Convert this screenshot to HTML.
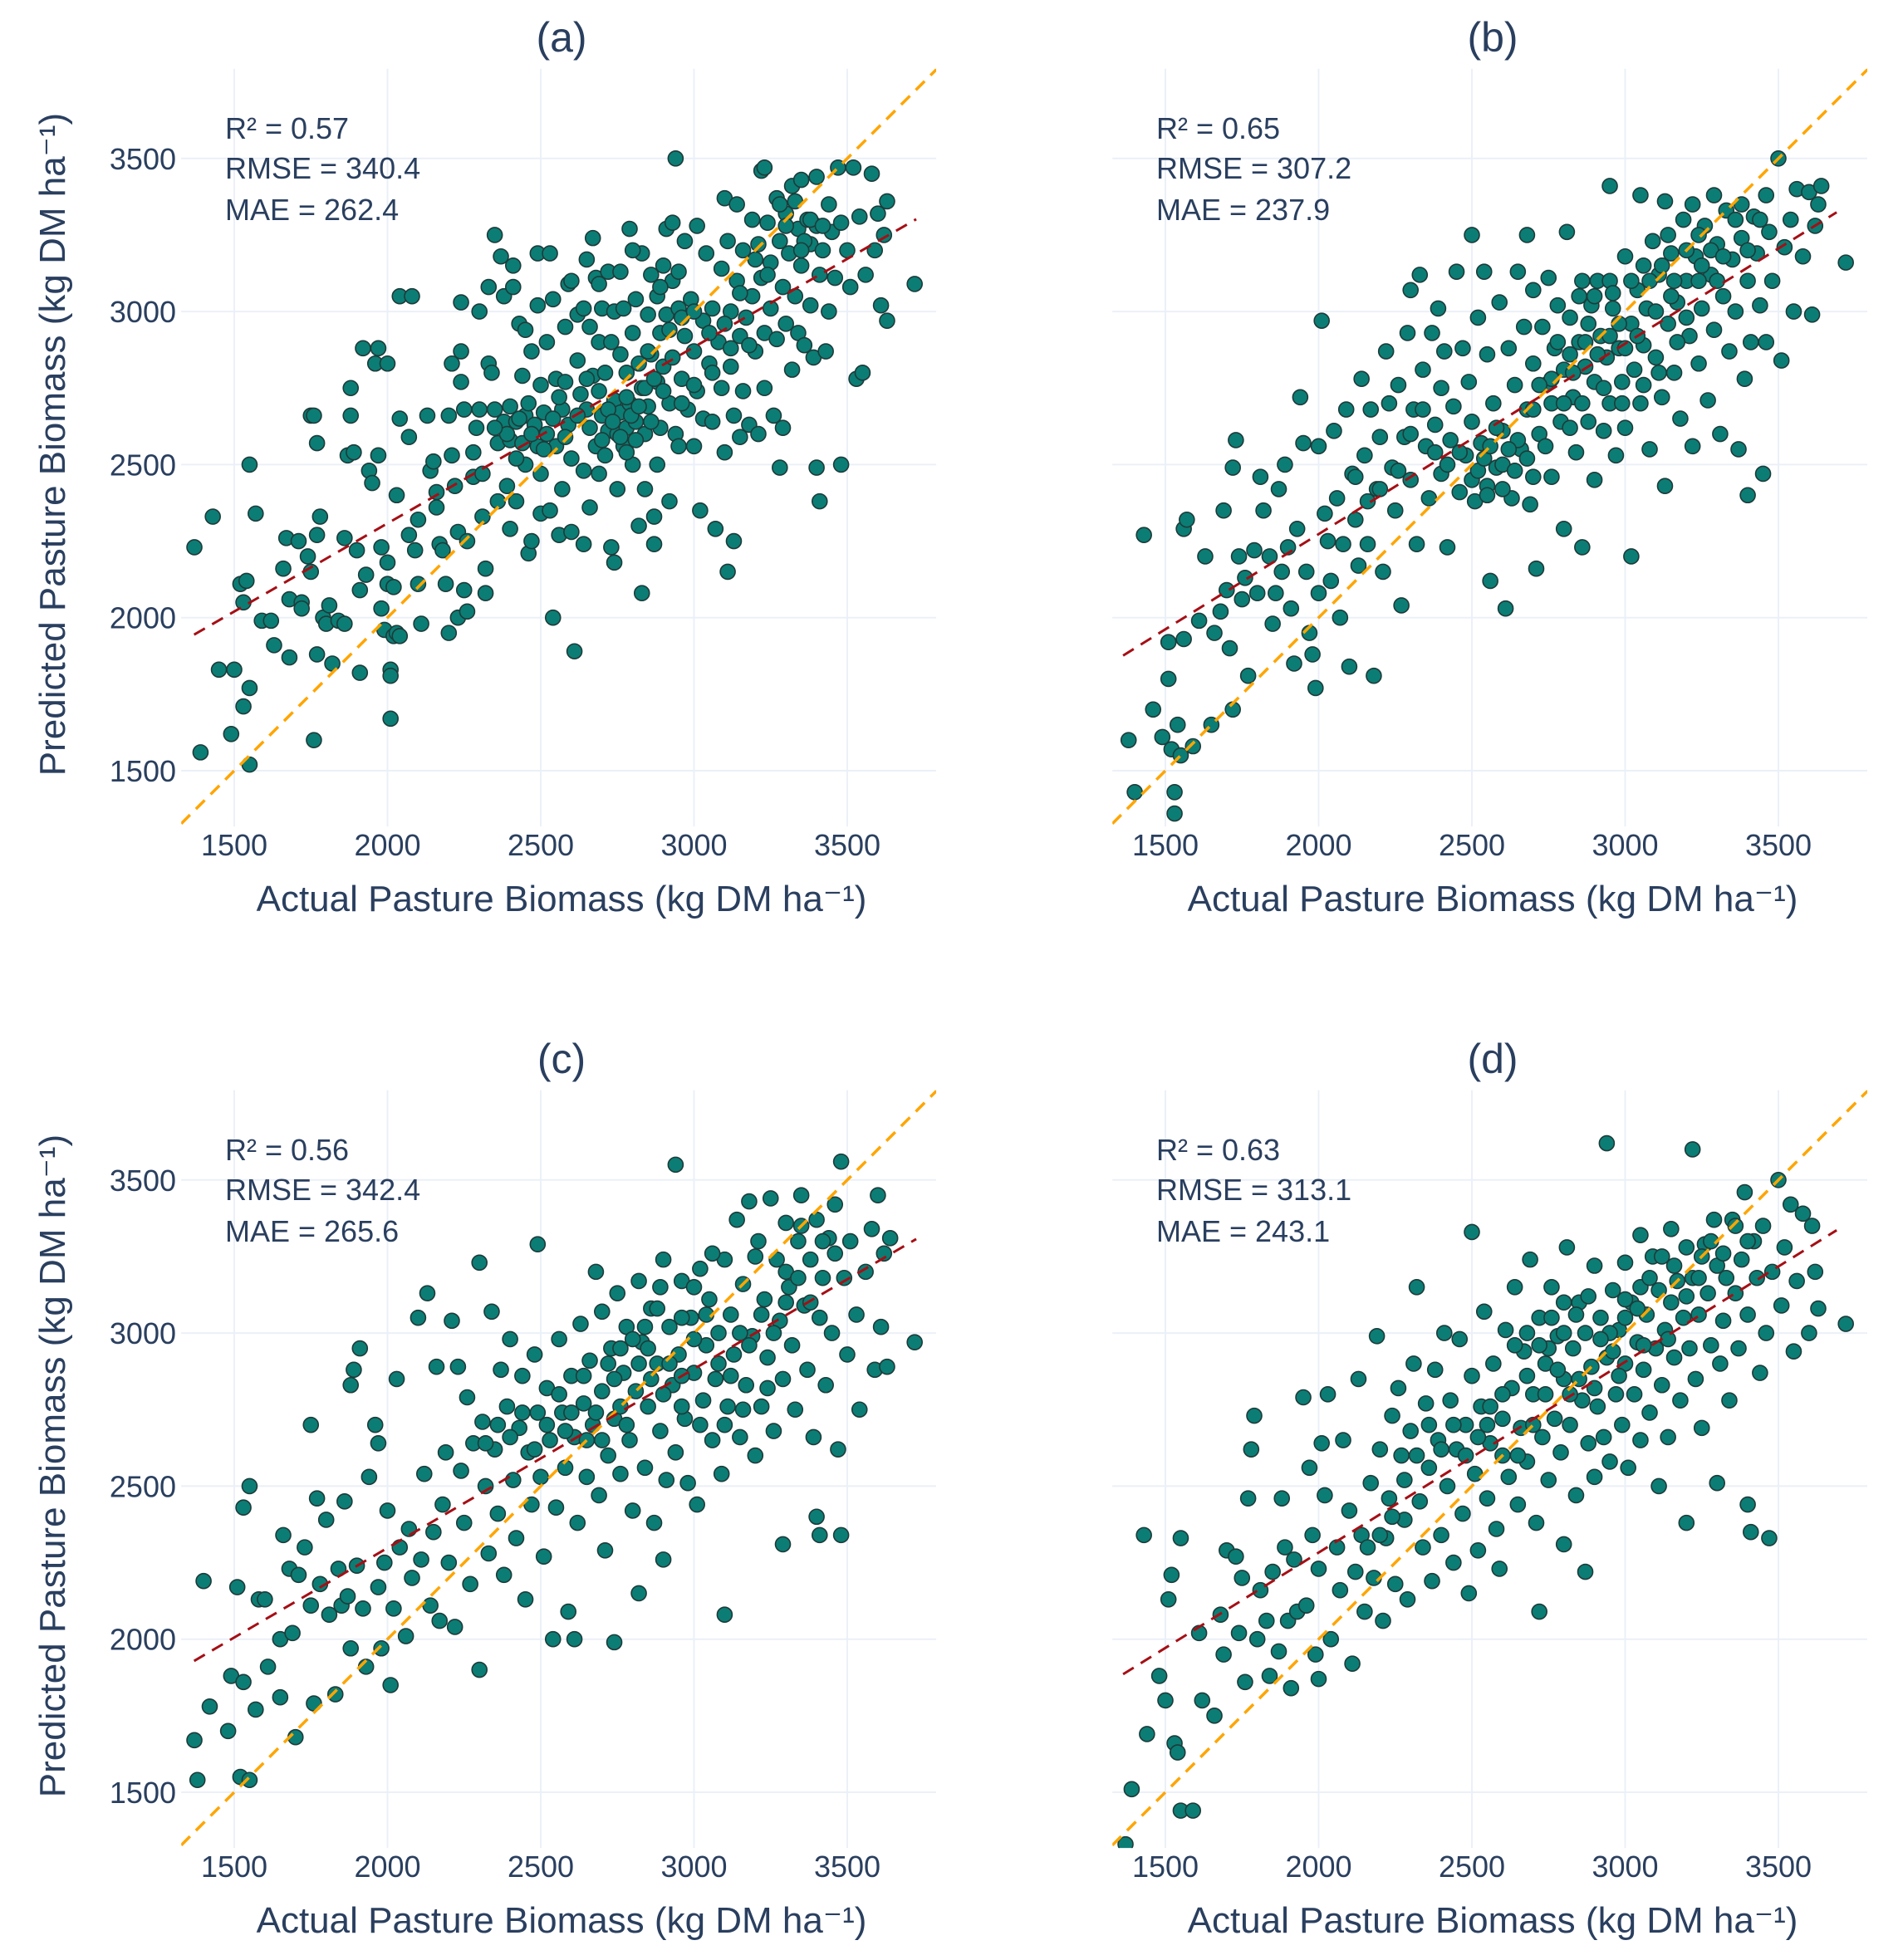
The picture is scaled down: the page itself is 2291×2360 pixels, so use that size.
<!DOCTYPE html>
<html><head><meta charset="utf-8"><style>
html,body{margin:0;padding:0;background:#fff;}
svg{display:block;font-family:"Liberation Sans",sans-serif;}
</style></head>
<body>
<svg id="fig" width="2291" height="2360" viewBox="0 0 2291 2360" xmlns="http://www.w3.org/2000/svg"></svg>
<script>
const ptsA=[[1370,2230],[1430,2330],[1390,1560],[1450,1830],[1500,1830],[1490,1620],[1530,1710],[1550,1770],[1550,1520],[1550,2500],[1520,2110],[1540,2120],[1530,2050],[1570,2340],[1590,1990],[1620,1990],[1630,1910],[1660,2160],[1670,2260],[1680,2060],[1680,1870],[1710,2250],[1720,2050],[1720,2030],[1740,2200],[1750,2150],[1750,2660],[1760,2660],[1760,1600],[1770,2570],[1770,1880],[1780,2330],[1770,2270],[1790,2000],[1800,1980],[1810,2040],[1820,1850],[1840,1990],[1860,1980],[1860,2260],[1870,2530],[1880,2660],[1880,2750],[1890,2540],[1900,2220],[1910,2090],[1920,2880],[1910,1820],[1930,2140],[1940,2480],[1950,2440],[1960,2830],[1970,2530],[1970,2880],[1980,2030],[1980,2230],[1990,1960],[2000,2830],[2000,2110],[2000,2180],[2010,1830],[2010,1810],[2010,1670],[2020,2100],[2020,1940],[2030,2400],[2030,1950],[2040,2650],[2040,3050],[2040,1940],[2070,2590],[2070,2270],[2080,3050],[2090,2220],[2100,2320],[2100,2110],[2110,1980],[2130,2660],[2140,2480],[2150,2510],[2160,2410],[2160,2360],[2170,2240],[2180,2220],[2190,2110],[2200,2660],[2200,1950],[2210,2830],[2210,2530],[2220,2430],[2230,2280],[2230,2000],[2240,3030],[2240,2870],[2240,2770],[2250,2090],[2260,2250],[2260,2020],[2280,2460],[2290,2620],[2300,2680],[2300,3000],[2310,2470],[2310,2330],[2320,2080],[2320,2160],[2330,3080],[2330,2830],[2340,2800],[2350,3250],[2350,2680],[2360,2570],[2360,2380],[2370,3180],[2380,3050],[2380,2640],[2390,2430],[2400,2690],[2400,2580],[2400,2290],[2410,3150],[2410,3080],[2420,2640],[2420,2380],[2430,2960],[2440,2790],[2440,2570],[2450,2940],[2450,2660],[2450,2500],[2460,2210],[2470,2870],[2470,2250],[2480,2630],[2490,3190],[2490,3020],[2490,2560],[2500,2760],[2500,2470],[2500,2340],[2510,2670],[2520,2900],[2520,2600],[2530,3190],[2530,2350],[2540,3040],[2540,2000],[2550,2780],[2550,2560],[2560,2270],[2570,2680],[2570,2420],[2580,2950],[2580,2770],[2590,3090],[2590,2630],[2600,2520],[2600,2280],[2610,1890],[2620,2990],[2620,2840],[2630,2730],[2640,2480],[2640,2240],[2650,3170],[2650,2680],[2660,2950],[2660,2360],[2670,3240],[2670,2790],[2680,3110],[2680,2560],[2690,2900],[2690,2470],[2700,3010],[2700,2660],[2710,2800],[2710,2530],[2720,3130],[2720,2610],[2730,2900],[2730,2230],[2740,3000],[2740,2710],[2740,2180],[2750,2600],[2750,2420],[2760,2860],[2760,2670],[2770,3010],[2770,2560],[2780,2800],[2780,2620],[2790,3270],[2790,2700],[2800,2930],[2800,2500],[2810,3040],[2810,2640],[2820,2830],[2820,2300],[2830,3190],[2830,2750],[2830,2080],[2840,2600],[2840,2420],[2850,2990],[2850,2690],[2860,3120],[2860,2860],[2870,2330],[2870,2240],[2880,3050],[2880,2770],[2880,2500],[2890,2930],[2890,2620],[2900,3150],[2900,2820],[2910,3270],[2910,2990],[2920,2700],[2920,2380],[2930,3100],[2930,2850],[2940,3500],[2940,2600],[2950,3010],[2950,2560],[2960,2780],[2970,3230],[2970,2920],[2980,2680],[2990,3040],[3000,2870],[3000,2560],[3010,3280],[3010,2740],[3020,2350],[3030,2970],[3030,2650],[3040,3190],[3050,2830],[3060,2640],[3060,3010],[3070,2290],[3080,2900],[3090,3140],[3090,2750],[3100,3370],[3100,2540],[3110,3230],[3110,2150],[3120,3000],[3120,2820],[3130,2660],[3130,2250],[3140,3350],[3140,3100],[3150,2920],[3150,2590],[3160,3200],[3160,2740],[3170,2980],[3180,2630],[3190,3300],[3190,3050],[3200,2870],[3210,3220],[3210,2600],[3220,3460],[3220,3110],[3230,2930],[3230,2750],[3240,3290],[3250,3010],[3250,3160],[3260,2660],[3270,2910],[3270,3370],[3280,3230],[3280,2490],[3290,3080],[3290,2620],[3300,3320],[3300,2960],[3310,3190],[3320,3410],[3320,2810],[3330,3050],[3340,3270],[3340,2930],[3350,3430],[3350,3150],[3360,2890],[3370,3300],[3380,3220],[3380,3020],[3390,2850],[3400,3440],[3400,3280],[3400,2490],[3410,3120],[3410,2380],[3420,3200],[3430,2870],[3440,3350],[3440,3000],[3450,3260],[3460,3110],[3470,3470],[3480,2500],[3480,3290],[3500,3200],[3510,3080],[3520,3470],[3530,2780],[3540,3310],[3550,2800],[3560,3120],[3580,3450],[3590,3200],[3600,3320],[3610,3020],[3620,3250],[3630,3360],[3630,2970],[3720,3090],[3280,3350],[3330,3360],[3360,3230],[3230,3470],[2930,3290],[2950,3130],[2890,3080],[2800,3200],[2760,3130],[2640,3010],[2600,3100],[2690,3090],
[2720,2680],[2735,2640],[2760,2590],[2780,2720],[2795,2660],[2810,2580],[2820,2690],[2840,2750],[2860,2640],[2870,2780],[2780,2540],[2700,2580],[2660,2620],[2620,2660],[2580,2590],[2540,2650],[2510,2550],[2470,2600],[2430,2650],[2390,2600],[2350,2620],[2920,2940],[2960,2980],[3000,3000],[3050,2930],[3100,2960],[3150,3060],[3200,3170],[3240,3120],[3300,3280],[3350,3200],[3380,3300],[3420,3280],[3180,2890],[3120,2880],[3060,2800],[3000,2760],[2960,2700],[2900,2740],[2850,2870],[2690,2740],[2650,2780],[2560,2720],[2460,2700],[2420,2520],[2280,2540],[2250,2680]];
const ptsB=[[1380,1600],[1400,1430],[1430,2270],[1460,1700],[1490,1610],[1510,1920],[1510,1800],[1520,1570],[1530,1430],[1530,1360],[1540,1650],[1550,1550],[1560,2290],[1560,1930],[1570,2320],[1590,1580],[1610,1990],[1630,2200],[1650,1650],[1660,1950],[1680,2020],[1690,2350],[1700,2090],[1710,1900],[1720,2490],[1720,1700],[1730,2580],[1740,2200],[1750,2060],[1760,2130],[1770,1810],[1790,2220],[1800,2080],[1810,2460],[1820,2350],[1840,2200],[1850,1980],[1860,2080],[1870,2420],[1880,2150],[1890,2500],[1900,2230],[1910,2030],[1920,1850],[1930,2290],[1940,2720],[1950,2570],[1960,2150],[1970,1950],[1980,1880],[1990,1770],[2000,2560],[2000,2080],[2010,2970],[2020,2340],[2030,2250],[2040,2120],[2050,2610],[2060,2390],[2070,2000],[2080,2240],[2090,2680],[2100,1840],[2110,2470],[2120,2320],[2130,2170],[2140,2780],[2150,2530],[2160,2240],[2170,2680],[2180,1810],[2190,2420],[2200,2590],[2210,2150],[2220,2870],[2230,2700],[2240,2490],[2250,2350],[2260,2760],[2270,2040],[2280,2590],[2290,2930],[2300,3070],[2300,2450],[2310,2680],[2320,2240],[2330,3120],[2340,2810],[2350,2560],[2360,2390],[2370,2930],[2380,2630],[2390,3010],[2400,2470],[2400,2750],[2410,2870],[2420,2230],[2430,2580],[2440,2690],[2450,3130],[2460,2410],[2470,2880],[2480,2530],[2490,2770],[2500,3250],[2500,2640],[2510,2380],[2520,2980],[2530,2570],[2540,3130],[2550,2860],[2550,2430],[2560,2120],[2570,2700],[2580,2490],[2590,3030],[2600,2610],[2610,2030],[2620,2880],[2630,2390],[2640,2760],[2650,3130],[2660,2550],[2670,2950],[2680,3250],[2680,2680],[2690,2370],[2700,2830],[2700,3070],[2710,2160],[2720,2600],[2730,2950],[2740,2760],[2750,3110],[2760,2460],[2770,2880],[2780,3020],[2790,2640],[2800,2290],[2800,2810],[2810,3260],[2820,2980],[2830,2720],[2840,2540],[2850,2900],[2860,2230],[2860,3100],[2870,2820],[2880,2640],[2890,3020],[2900,2450],[2900,2770],[2910,3100],[2920,2920],[2930,2610],[2940,2850],[2950,3410],[2950,2700],[2960,3010],[2970,2530],[2980,2880],[2990,2770],[3000,3180],[3000,2620],[3020,2200],[3020,2960],[3030,2810],[3040,3070],[3050,3380],[3050,2700],[3060,2890],[3070,3010],[3080,2550],[3090,3230],[3100,2850],[3110,3120],[3120,2720],[3130,3360],[3130,2430],[3140,2960],[3150,3190],[3160,2800],[3170,3030],[3180,2650],[3190,3300],[3200,3100],[3210,2920],[3220,3350],[3220,2560],[3230,3180],[3240,2830],[3250,3010],[3260,3280],[3270,2710],[3280,3120],[3290,3380],[3290,2940],[3300,3220],[3310,2600],[3320,3050],[3330,3330],[3340,2870],[3350,3170],[3360,3000],[3370,2550],[3380,3350],[3380,3240],[3390,2780],[3400,3100],[3400,2400],[3410,2900],[3420,3310],[3430,3190],[3440,3020],[3450,2470],[3460,3380],[3460,2900],[3470,3260],[3480,3100],[3500,3500],[3510,2840],[3520,3210],[3540,3300],[3550,3000],[3560,3400],[3580,3180],[3600,3390],[3610,2990],[3620,3280],[3630,3350],[3640,3410],[3720,3160],[2950,3100],[2900,3050],[2850,3050],[2780,2900],[2760,2780],[2700,2680],[2650,2580],[2600,2500],[2550,2400],[2500,2450],[2580,2620],[2620,2550],[3100,3000],[3150,3050],[3200,2980],[3250,3150],[3300,3100],[2880,2960],[2820,2860],[2980,2960],[3060,3150],
[2520,2480],[2540,2520],[2560,2560],[2600,2420],[2640,2480],[2680,2520],[2720,2760],[2760,2700],[2800,2700],[2830,2800],[2870,2900],[2910,2860],[2950,2920],[3000,2880],[3040,2920],[3080,3100],[3120,3150],[3160,3100],[3200,3200],[3240,3250],[3280,3200],[3320,3180],[3360,3300],[3400,3200],[3440,3300],[3170,2900],[3110,2800],[3060,2760],[2990,2700],[2930,2750],[2860,2700],[2820,2620],[2740,2560],[2700,2460],[2460,2540],[2420,2500],[2380,2540],[2340,2680],[2300,2600],[2260,2480],[2200,2420],[2160,2380],[2120,2460],[2960,3060],[3020,3100],[3140,3250],[3240,3100]];
const ptsC=[[1370,1670],[1380,1540],[1400,2190],[1420,1780],[1480,1700],[1490,1880],[1510,2170],[1520,1550],[1530,1860],[1530,2430],[1550,1540],[1550,2500],[1570,1770],[1580,2130],[1600,2130],[1610,1910],[1650,1810],[1650,2000],[1660,2340],[1680,2230],[1690,2020],[1700,1680],[1710,2210],[1730,2300],[1750,2700],[1750,2110],[1760,1790],[1770,2460],[1780,2180],[1800,2390],[1810,2080],[1830,1820],[1840,2230],[1850,2110],[1860,2450],[1870,2140],[1880,1970],[1880,2830],[1890,2880],[1900,2240],[1910,2950],[1920,2100],[1930,1910],[1940,2530],[1960,2700],[1970,2170],[1970,2640],[1980,1970],[1990,2250],[2000,2420],[2010,1850],[2020,2100],[2030,2850],[2040,2300],[2060,2010],[2070,2360],[2080,2200],[2100,3050],[2110,2260],[2120,2540],[2130,3130],[2140,2110],[2150,2350],[2160,2890],[2170,2060],[2180,2440],[2190,2610],[2200,2250],[2210,3040],[2220,2040],[2230,2890],[2240,2550],[2250,2380],[2260,2790],[2270,2180],[2280,2640],[2300,3230],[2300,1900],[2310,2710],[2320,2500],[2330,2280],[2340,3070],[2350,2620],[2360,2410],[2370,2880],[2380,2210],[2390,2760],[2400,2980],[2410,2520],[2420,2330],[2430,2690],[2440,2860],[2450,2130],[2460,2610],[2470,2440],[2480,2930],[2490,3290],[2490,2740],[2500,2530],[2510,2270],[2520,2820],[2530,2650],[2540,2000],[2550,2430],[2560,2980],[2570,2740],[2580,2560],[2590,2090],[2600,2860],[2610,2000],[2610,2660],[2620,2380],[2630,3030],[2640,2770],[2650,2530],[2660,2910],[2670,2700],[2680,3200],[2690,2470],[2700,3070],[2700,2810],[2710,2290],[2720,2600],[2730,2950],[2740,1990],[2740,2720],[2750,3130],[2760,2540],[2770,2870],[2780,3020],[2790,2650],[2800,2420],[2810,2810],[2820,3170],[2820,2150],[2830,2970],[2840,2560],[2850,2760],[2860,3080],[2870,2380],[2880,2900],[2890,2680],[2900,3240],[2900,2260],[2910,2520],[2920,3020],[2930,2830],[2940,3550],[2940,2610],[2950,2930],[2960,3170],[2970,2720],[2980,2510],[2990,3050],[3000,2870],[3010,2440],[3020,3210],[3030,2780],[3040,2960],[3050,3110],[3060,2650],[3070,2850],[3080,3000],[3090,2540],[3100,2080],[3100,3240],[3110,2760],[3120,3060],[3130,2930],[3140,3370],[3150,2660],[3160,3160],[3170,2830],[3180,3430],[3190,2990],[3200,2600],[3210,3300],[3220,2760],[3230,3110],[3240,2920],[3250,3440],[3260,2680],[3270,3240],[3280,3040],[3290,2310],[3290,2850],[3300,3360],[3310,3150],[3320,2960],[3330,2750],[3340,3300],[3350,3450],[3360,3090],[3370,2880],[3380,3240],[3390,2660],[3400,3370],[3400,2400],[3410,3050],[3410,2340],[3420,3180],[3430,2830],[3440,3310],[3450,3000],[3460,3420],[3470,2620],[3480,3560],[3480,2340],[3490,3180],[3500,2930],[3510,3300],[3530,3060],[3540,2750],[3560,3200],[3580,3340],[3590,2880],[3600,3450],[3610,3020],[3620,3260],[3630,2890],[3640,3310],[3720,2970],[3060,3260],[3000,3150],[2960,3050],[2890,3150],[2850,2950],[3150,3000],[3200,3250],[3300,3200],[3350,3350],[2700,2650],[2760,2760],[2650,2650],[2580,2680],
[2720,2900],[2760,2950],[2800,2980],[2840,3020],[2880,3080],[2920,2900],[2960,2860],[3000,2980],[3040,3060],[3080,2900],[3120,2860],[3180,2960],[3220,3060],[3260,3000],[3300,3100],[3340,3180],[3380,3100],[3420,3300],[3460,3260],[2680,2740],[2640,2860],[2600,2740],[2560,2800],[2520,2700],[2480,2620],[2440,2740],[2400,2660],[2360,2700],[2320,2640],[2900,2800],[2860,2850],[2820,2900],[2780,2700],[2740,2850],[2960,2760],[3020,2700],[3100,2700],[3160,2750],[3240,2820]];
const ptsD=[[1370,1330],[1390,1510],[1430,2340],[1440,1690],[1480,1880],[1500,1800],[1510,2130],[1520,2210],[1530,1660],[1540,1630],[1550,1440],[1550,2330],[1590,1440],[1610,2020],[1620,1800],[1660,1750],[1680,2080],[1690,1950],[1700,2290],[1730,2270],[1740,2020],[1750,2200],[1760,1860],[1770,2460],[1780,2620],[1790,2730],[1800,2000],[1810,2160],[1830,2060],[1840,1880],[1850,2220],[1870,1960],[1880,2460],[1890,2300],[1900,2060],[1910,1840],[1920,2260],[1930,2090],[1950,2790],[1960,2110],[1970,2560],[1980,2340],[1990,1950],[2000,2230],[2000,1870],[2010,2640],[2020,2470],[2030,2800],[2040,2000],[2060,2300],[2070,2160],[2080,2650],[2100,2420],[2110,1920],[2120,2220],[2130,2850],[2140,2340],[2150,2090],[2170,2510],[2180,2200],[2190,2990],[2200,2620],[2210,2060],[2220,2330],[2230,2460],[2240,2730],[2250,2180],[2260,2820],[2270,2600],[2280,2390],[2290,2130],[2300,2680],[2310,2900],[2320,3150],[2330,2450],[2340,2300],[2350,2770],[2360,2560],[2370,2190],[2380,2880],[2390,2650],[2400,2340],[2410,3000],[2420,2500],[2430,2780],[2440,2250],[2450,2620],[2460,2980],[2470,2410],[2480,2700],[2490,2150],[2500,3330],[2500,2860],[2510,2540],[2520,2290],[2530,2760],[2540,3070],[2550,2460],[2560,2640],[2570,2900],[2580,2360],[2590,2230],[2600,2720],[2610,3010],[2620,2530],[2630,2820],[2640,3150],[2650,2440],[2660,2690],[2670,2940],[2680,2580],[2690,3240],[2700,2800],[2710,2380],[2720,2090],[2720,3050],[2730,2660],[2740,2900],[2750,2520],[2760,3150],[2770,2720],[2780,2990],[2790,2610],[2800,2310],[2800,2850],[2810,3280],[2820,2700],[2830,2950],[2840,2470],[2850,3100],[2860,2780],[2870,2220],[2870,3000],[2880,2640],[2890,2890],[2900,3220],[2900,2530],[2910,2760],[2920,3050],[2930,2660],[2940,3620],[2940,2920],[2950,2580],[2960,3140],[2970,2800],[2980,3010],[2990,2700],[3000,3230],[3000,2900],[3010,2560],[3020,3100],[3030,2800],[3040,2970],[3050,3320],[3050,2650],[3060,2880],[3070,3060],[3080,2740],[3090,3250],[3100,2950],[3110,2500],[3110,3140],[3120,2830],[3130,3010],[3140,2660],[3150,3340],[3160,2920],[3170,3170],[3180,2780],[3190,3050],[3200,2380],[3200,3280],[3210,2950],[3220,3600],[3220,3180],[3230,2850],[3240,3060],[3250,2690],[3260,3290],[3270,3130],[3280,2960],[3290,3370],[3300,2510],[3300,3220],[3310,2900],[3320,3040],[3330,3180],[3340,2780],[3350,3370],[3360,3130],[3370,2950],[3380,3240],[3390,3460],[3400,2440],[3400,3060],[3410,2350],[3420,3300],[3430,3180],[3440,2870],[3450,3350],[3460,3000],[3470,2330],[3480,3200],[3500,3500],[3510,3090],[3520,3280],[3540,3420],[3550,2940],[3560,3170],[3580,3390],[3600,3000],[3610,3350],[3620,3200],[3630,3080],[3720,3030],[2950,3000],[3000,3050],[3050,3150],[2800,3000],[2850,2850],[2750,2950],[2700,2700],[2650,2600],[2600,2600],[2550,2700],[3150,3100],[3250,3250],
[2640,2960],[2680,3000],[2720,2960],[2760,3050],[2800,3100],[2840,3060],[2880,3120],[2920,2980],[2960,2940],[3000,3110],[3040,3080],[3080,3180],[3120,3250],[3160,3220],[3200,3120],[3240,3180],[3280,3300],[3320,3260],[3360,3350],[3400,3300],[2600,2800],[2560,2760],[2520,2660],[2480,2600],[2440,2700],[2400,2620],[2360,2700],[2320,2600],[2280,2520],[2240,2400],[2200,2340],[2160,2300],[2680,2860],[2740,2800],[2780,2880],[2820,2800],[2900,2820],[2980,2860],[3060,2960],[3140,2980]];
const panelTitles=["(a)","(b)","(c)","(d)"];
const statR2=["0.57","0.65","0.56","0.63"];
const statRMSE=["340.4","307.2","342.4","313.1"];
const statMAE=["262.4","237.9","265.6","243.1"];
const fitSlope=[0.576,0.622,0.585,0.623];
const fitIntercept=[1156,1029,1128,1037];
const fitXStart=[1369,1362,1369,1362];
const fitXEnd=[3725,3690,3725,3690];
const tickVals=[1500,2000,2500,3000,3500];

const NS="http://www.w3.org/2000/svg";
const svg=document.getElementById('fig');
function mk(tag,attrs,parent,txt){const e=document.createElementNS(NS,tag);for(const k in attrs)e.setAttribute(k,attrs[k]);if(txt!==undefined)e.textContent=txt;(parent||svg).appendChild(e);return e;}
const XMIN=1327,XMAX=3790,YMIN=1318,YMAX=3793;
const offsets=[[0,0],[1121,0],[0,1230],[1121,1230]];
const allPts=[ptsA,ptsB,ptsC,ptsD];
const TXT="#2a3f5f";

offsets.forEach((o,i)=>{
  const ox=o[0],oy=o[1];
  const sx=v=>ox+282+(v-1500)*0.369;
  const sy=v=>oy+928-(v-1500)*0.3686;
  const g=mk('g',{});
  
  
  const cid='clip'+i;
  const defs=mk('defs',{},g);
  mk('rect',{x:sx(XMIN),y:sy(YMAX),width:sx(XMAX)-sx(XMIN),height:sy(YMIN)-sy(YMAX)},mk('clipPath',{id:cid},defs));
  tickVals.forEach(t=>{
    const gx=mk('line',{x1:sx(t),x2:sx(t),y1:sy(YMAX),y2:sy(YMIN),stroke:'#ebf0f8','stroke-width':2},g);
    
    
    const gy=mk('line',{x1:sx(XMIN),x2:sx(XMAX),y1:sy(t),y2:sy(t),stroke:'#ebf0f8','stroke-width':2},g);
    
    
    const xl=mk('text',{x:sx(t),y:oy+1030,'text-anchor':'middle','font-size':36,fill:TXT},g,String(t));
    
    
    if(i%2===0){
      const yl=mk('text',{x:ox+212,y:sy(t)+13,'text-anchor':'end','font-size':36,fill:TXT},g,String(t));
      
      
    }
  });
  const pg=mk('g',{'clip-path':'url(#'+cid+')'},g);
  allPts[i].forEach(p=>{
    const c=mk('circle',{cx:sx(p[0]),cy:sy(p[1]),r:9,fill:'#0b7d74',stroke:'#1d3b3a','stroke-width':1.6},pg);
    
    
  });
  const idl=mk('line',{x1:sx(XMIN),y1:sy(XMIN),x2:sx(YMAX),y2:sy(YMAX),stroke:'#ffa500','stroke-width':3.5,'stroke-dasharray':'15 10'},pg);
  
  
  const fl=mk('line',{x1:sx(fitXStart[i]),y1:sy(fitSlope[i]*fitXStart[i]+fitIntercept[i]),x2:sx(fitXEnd[i]),y2:sy(fitSlope[i]*fitXEnd[i]+fitIntercept[i]),stroke:'#a50f15','stroke-width':3,'stroke-dasharray':'15 10'},pg);
  
  
  const t=mk('text',{x:ox+676,y:oy+62,'text-anchor':'middle','font-size':50,fill:TXT},g,panelTitles[i]);
  
  
  const s1=mk('text',{x:ox+271,y:oy+167,'font-size':36,fill:TXT},g,'R² = '+statR2[i]);
  
  
  const s2=mk('text',{x:ox+271,y:oy+215,'font-size':36,fill:TXT},g,'RMSE = '+statRMSE[i]);
  
  
  const s3=mk('text',{x:ox+271,y:oy+265,'font-size':36,fill:TXT},g,'MAE = '+statMAE[i]);
  
  
  const xt=mk('text',{x:ox+676,y:oy+1097,'text-anchor':'middle','font-size':44,fill:TXT},g,'Actual Pasture Biomass (kg DM ha⁻¹)');
  
  
  if(i%2===0){
    const yt=mk('text',{x:0,y:0,'text-anchor':'middle','font-size':44,fill:TXT,transform:'translate('+(ox+78)+','+(oy+535)+') rotate(-90)'},g,'Predicted Pasture Biomass (kg DM ha⁻¹)');
    
    
  }
});
</script>
</body></html>
